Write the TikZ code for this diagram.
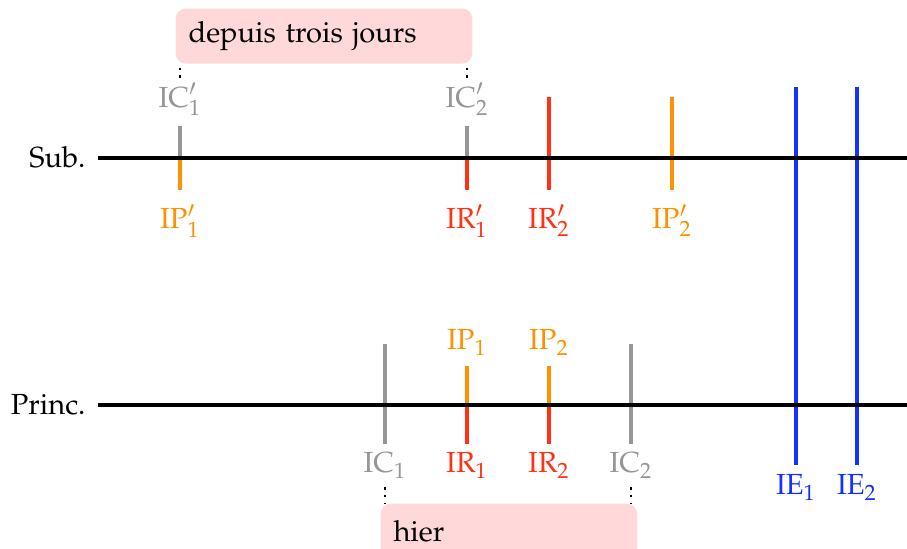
\documentclass[tikz,border=0pt]{standalone}
\usepackage[T1]{fontenc}
\usepackage{mathpazo}
\definecolor{cgray}{RGB}{150,150,150}
\definecolor{corange}{RGB}{255,145,0}
\definecolor{cred}{RGB}{255,50,20}
\definecolor{cblue}{RGB}{20,50,255}
\definecolor{cpink}{RGB}{255,217,217}
\begin{document}
\begin{tikzpicture}[x=0.385pt,y=-0.385pt,
  every node/.style={font=\fontsize{11.2pt}{13.5pt}\selectfont},
  axis/.style={line width=1.6pt,black},
  tk/.style={line width=1.6pt},
  lbl/.style={anchor=base,inner sep=0pt},
  side/.style={anchor=base east,inner sep=0pt},
  pinkbox/.style={fill=cpink,rounded corners=4pt,anchor=north west,inner xsep=5pt,inner ysep=0pt,align=left},
  dots/.style={dotted,line width=1pt}]
\useasboundingbox (0,0) rectangle (907,549);
% boxes
\node[pinkbox,minimum width=114.3pt,minimum height=21.2pt,text width=104.3pt] (dbox) at (175,8) {depuis trois jours};
\node[pinkbox,minimum width=98.8pt,minimum height=21.2pt,text width=88.8pt] (hbox) at (380,503) {hier};
% side labels
\node[side] (sub) at (86,168) {Sub.};
\node[side] (princ) at (86,415) {Princ.};
% axis end points
\coordinate (s0) at (98,158); \coordinate (s1) at (907,158);
\coordinate (p0) at (98,405); \coordinate (p1) at (907,405);
% Sub ticks
\coordinate (a1) at (180,126); \coordinate (a2) at (180,158); \coordinate (a3) at (180,190);
\draw[tk,cgray] (a1) -- (a2); \draw[tk,corange] (a2) -- (a3);
\coordinate (b1) at (467,126); \coordinate (b2) at (467,158); \coordinate (b3) at (467,190);
\draw[tk,cgray] (b1) -- (b2); \draw[tk,cred] (b2) -- (b3);
\coordinate (c1) at (549,97); \coordinate (c3) at (549,190);
\draw[tk,cred] (c1) -- (c3);
\coordinate (d1) at (672,97); \coordinate (d3) at (672,190);
\draw[tk,corange] (d1) -- (d3);
\coordinate (e1) at (796,87); \coordinate (e3) at (796,465);
\draw[tk,cblue] (e1) -- (e3);
\coordinate (f1) at (857,87); \coordinate (f3) at (857,465);
\draw[tk,cblue] (f1) -- (f3);
% Princ ticks
\coordinate (g1) at (385,344); \coordinate (g3) at (385,444);
\draw[tk,cgray] (g1) -- (g3);
\coordinate (h1) at (467,366); \coordinate (h2) at (467,405); \coordinate (h3) at (467,444);
\draw[tk,corange] (h1) -- (h2); \draw[tk,cred] (h2) -- (h3);
\coordinate (i1) at (549,366); \coordinate (i2) at (549,405); \coordinate (i3) at (549,444);
\draw[tk,corange] (i1) -- (i2); \draw[tk,cred] (i2) -- (i3);
\coordinate (j1) at (631,344); \coordinate (j3) at (631,444);
\draw[tk,cgray] (j1) -- (j3);
% axes
\draw[axis] (s0) -- (s1);
\draw[axis] (p0) -- (p1);
% labels Sub
\node[lbl,text=cgray] (ic1p) at (180,108) {$\mathrm{IC}'_1$};
\node[lbl,text=cgray] (ic2p) at (467,108) {$\mathrm{IC}'_2$};
\node[lbl,text=corange] (ip1p) at (180,229) {$\mathrm{IP}'_1$};
\node[lbl,text=cred] (ir1p) at (467,229) {$\mathrm{IR}'_1$};
\node[lbl,text=cred] (ir2p) at (549,229) {$\mathrm{IR}'_2$};
\node[lbl,text=corange] (ip2p) at (672,229) {$\mathrm{IP}'_2$};
% labels Princ
\node[lbl,text=corange] (ip1) at (467,350) {$\mathrm{IP}_1$};
\node[lbl,text=corange] (ip2) at (549,350) {$\mathrm{IP}_2$};
\node[lbl,text=cgray] (ic1) at (385,473) {$\mathrm{IC}_1$};
\node[lbl,text=cred] (ir1) at (467,473) {$\mathrm{IR}_1$};
\node[lbl,text=cred] (ir2) at (549,473) {$\mathrm{IR}_2$};
\node[lbl,text=cgray] (ic2) at (631,473) {$\mathrm{IC}_2$};
\node[lbl,text=cblue] (ie1) at (796,495) {$\mathrm{IE}_1$};
\node[lbl,text=cblue] (ie2) at (857,495) {$\mathrm{IE}_2$};
% dotted links
\coordinate (q1) at (180,78); \coordinate (q2) at (467,78);
\draw[dots] (q1) -- (q1 |- dbox.south);
\draw[dots] (q2) -- (q2 |- dbox.south);
\coordinate (r1) at (385,487); \coordinate (r2) at (631,487);
\draw[dots] (r1) -- (r1 |- hbox.north);
\draw[dots] (r2) -- (r2 |- hbox.north);
\end{tikzpicture}
\end{document}
